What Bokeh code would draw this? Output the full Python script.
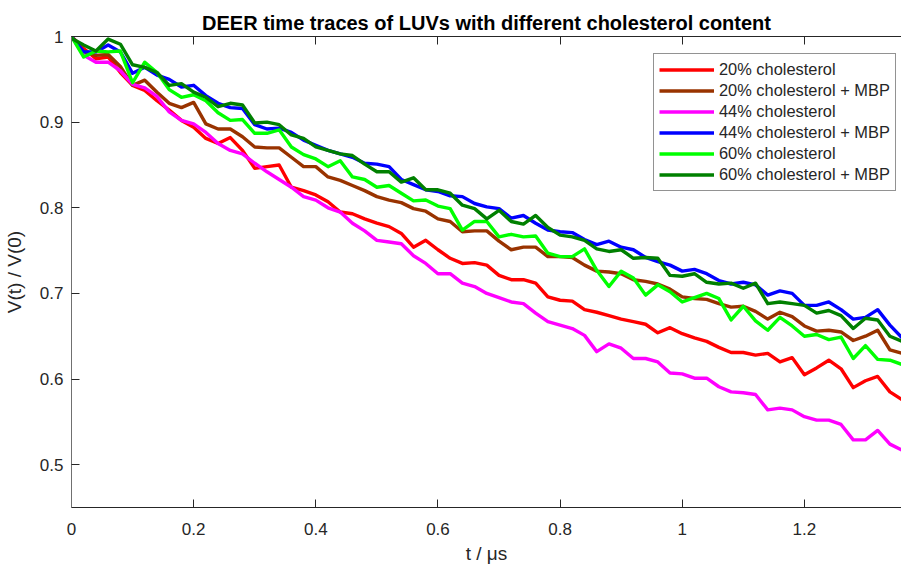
from bokeh.plotting import figure
from bokeh.models import Range1d, LinearAxis, FixedTicker, Legend, LegendItem
from bokeh.embed import file_html
from bokeh.resources import INLINE

# ---------------- data ----------------
t_us = [0.00, 0.02, 0.04, 0.06, 0.08, 0.10, 0.12, 0.14, 0.16, 0.18, 0.20, 0.22, 0.24, 0.26, 0.28,
        0.30, 0.32, 0.34, 0.36, 0.38, 0.40, 0.42, 0.44, 0.46, 0.48, 0.50, 0.52, 0.54, 0.56,
        0.58, 0.60, 0.62, 0.64, 0.66, 0.68, 0.70, 0.72, 0.74, 0.76, 0.78, 0.80, 0.82, 0.84,
        0.86, 0.88, 0.90, 0.92, 0.94, 0.96, 0.98, 1.00, 1.02, 1.04, 1.06, 1.08, 1.10,
        1.12, 1.14, 1.16, 1.18, 1.20, 1.22, 1.24, 1.26, 1.28, 1.30, 1.32, 1.34, 1.36]

chol20 = [1.000, 0.986, 0.974, 0.976, 0.958, 0.943, 0.937, 0.925, 0.914, 0.902, 0.894, 0.881, 0.875, 0.882, 0.867,
          0.846, 0.848, 0.850, 0.824, 0.820, 0.815, 0.807, 0.795, 0.793, 0.787, 0.782, 0.778, 0.770, 0.754,
          0.762, 0.751, 0.741, 0.735, 0.736, 0.733, 0.721, 0.716, 0.716, 0.712, 0.696, 0.692, 0.691, 0.681,
          0.678, 0.674, 0.670, 0.667, 0.664, 0.654, 0.660, 0.653, 0.648, 0.644, 0.637, 0.631, 0.631,
          0.628, 0.630, 0.620, 0.625, 0.605, 0.613, 0.622, 0.612, 0.590, 0.598, 0.603, 0.585, 0.576]

chol20_mbp = [1.000, 0.982, 0.978, 0.979, 0.965, 0.943, 0.949, 0.935, 0.922, 0.917, 0.923, 0.898, 0.892, 0.892, 0.883,
              0.871, 0.870, 0.870, 0.859, 0.848, 0.848, 0.836, 0.832, 0.826, 0.820, 0.813, 0.809, 0.806, 0.799,
              0.796, 0.787, 0.784, 0.772, 0.773, 0.773, 0.761, 0.751, 0.754, 0.754, 0.743, 0.743, 0.742, 0.733,
              0.726, 0.725, 0.723, 0.716, 0.714, 0.711, 0.705, 0.696, 0.694, 0.693, 0.688, 0.684, 0.685,
              0.679, 0.670, 0.678, 0.673, 0.662, 0.656, 0.657, 0.655, 0.645, 0.650, 0.657, 0.634, 0.630]

chol44 = [1.000, 0.978, 0.970, 0.970, 0.960, 0.944, 0.940, 0.930, 0.912, 0.902, 0.898, 0.888, 0.875, 0.867, 0.863,
          0.852, 0.842, 0.833, 0.824, 0.813, 0.809, 0.800, 0.795, 0.782, 0.773, 0.762, 0.760, 0.758, 0.744,
          0.735, 0.723, 0.723, 0.712, 0.708, 0.700, 0.695, 0.690, 0.688, 0.677, 0.667, 0.663, 0.659, 0.651,
          0.632, 0.641, 0.636, 0.624, 0.624, 0.620, 0.607, 0.606, 0.601, 0.601, 0.591, 0.585, 0.584,
          0.582, 0.564, 0.566, 0.564, 0.556, 0.552, 0.552, 0.547, 0.529, 0.529, 0.540, 0.524, 0.517]

chol44_mbp = [1.000, 0.982, 0.982, 0.990, 0.982, 0.957, 0.964, 0.955, 0.950, 0.941, 0.943, 0.931, 0.922, 0.917, 0.916,
              0.897, 0.892, 0.893, 0.888, 0.879, 0.873, 0.867, 0.863, 0.859, 0.852, 0.851, 0.848, 0.833, 0.827,
              0.821, 0.819, 0.814, 0.813, 0.805, 0.801, 0.799, 0.788, 0.791, 0.782, 0.774, 0.772, 0.771, 0.763,
              0.757, 0.761, 0.754, 0.751, 0.742, 0.737, 0.733, 0.726, 0.728, 0.723, 0.715, 0.711, 0.713,
              0.710, 0.698, 0.703, 0.700, 0.686, 0.686, 0.690, 0.681, 0.670, 0.672, 0.681, 0.663, 0.648]

chol60 = [1.000, 0.976, 0.983, 0.982, 0.983, 0.946, 0.970, 0.958, 0.938, 0.929, 0.932, 0.925, 0.911, 0.902, 0.903,
          0.887, 0.887, 0.891, 0.871, 0.862, 0.857, 0.848, 0.855, 0.836, 0.833, 0.824, 0.826, 0.817, 0.808,
          0.809, 0.802, 0.799, 0.774, 0.784, 0.784, 0.766, 0.769, 0.766, 0.767, 0.747, 0.743, 0.743, 0.752,
          0.727, 0.708, 0.726, 0.718, 0.698, 0.710, 0.702, 0.690, 0.695, 0.700, 0.694, 0.669, 0.685,
          0.668, 0.657, 0.672, 0.662, 0.650, 0.652, 0.646, 0.649, 0.624, 0.639, 0.623, 0.622, 0.617]

chol60_mbp = [0.998, 0.990, 0.983, 0.997, 0.991, 0.967, 0.964, 0.958, 0.943, 0.945, 0.935, 0.929, 0.918, 0.922, 0.920,
              0.899, 0.900, 0.897, 0.885, 0.881, 0.871, 0.867, 0.863, 0.861, 0.851, 0.842, 0.842, 0.830, 0.835,
              0.821, 0.821, 0.817, 0.803, 0.799, 0.787, 0.797, 0.784, 0.781, 0.791, 0.777, 0.768, 0.766, 0.762,
              0.752, 0.749, 0.751, 0.741, 0.742, 0.741, 0.721, 0.720, 0.723, 0.713, 0.711, 0.712, 0.706,
              0.712, 0.688, 0.690, 0.688, 0.686, 0.677, 0.680, 0.674, 0.659, 0.671, 0.669, 0.650, 0.644]

series_labels = ["20% cholesterol", "20% cholesterol + MBP", "44% cholesterol",
                 "44% cholesterol + MBP", "60% cholesterol", "60% cholesterol + MBP"]
series_values = [chol20, chol20_mbp, chol44, chol44_mbp, chol60, chol60_mbp]
series_colors = ["#ff0000", "#993300", "#ff00ff", "#0000ff", "#00ff00", "#008000"]

x_ticks = [0, 0.2, 0.4, 0.6, 0.8, 1, 1.2]
x_tick_labels = ["0", "0.2", "0.4", "0.6", "0.8", "1", "1.2"]
y_ticks = [0.5, 0.6, 0.7, 0.8, 0.9, 1]
y_tick_labels = ["0.5", "0.6", "0.7", "0.8", "0.9", "1"]

# ---------------- figure ----------------
FONT = "Liberation Sans"
TXT = "#262626"

p = figure(width=901, height=566, output_backend="svg", toolbar_location=None,
           x_range=Range1d(0, 1.359), y_range=Range1d(0.45, 1.0),
           min_border_left=71, min_border_right=0, min_border_top=36, min_border_bottom=58)
p.outline_line_color = None
p.grid.visible = False

p.title.text = "DEER time traces of LUVs with different cholesterol content"
p.title.align = "center"
p.title.text_font = FONT
p.title.text_font_size = "20px"
p.title.text_font_style = "bold"
p.title.text_color = "#000000"
p.title.standoff = 6

xa = p.xaxis[0]
xa.ticker = FixedTicker(ticks=x_ticks)
xa.major_label_overrides = {k: v for k, v in zip(x_ticks, x_tick_labels)}
xa.axis_label = "t / μs"
ya = p.yaxis[0]
ya.ticker = FixedTicker(ticks=y_ticks)
ya.major_label_overrides = {k: v for k, v in zip(y_ticks, y_tick_labels)}
ya.axis_label = "V(t) / V(0)"

for ax in (xa, ya):
    ax.major_tick_in = 8
    ax.major_tick_out = 0
    ax.minor_tick_in = 0
    ax.minor_tick_out = 0
    ax.major_tick_line_color = TXT
    ax.axis_line_color = TXT
    ax.major_label_text_font = FONT
    ax.major_label_text_font_size = "17px"
    ax.major_label_text_color = TXT
    ax.axis_label_text_font = FONT
    ax.axis_label_text_font_size = "19px"
    ax.axis_label_text_font_style = "normal"
    ax.axis_label_text_color = TXT
xa.major_label_standoff = 15
xa.axis_label_standoff = 5
ya.major_label_standoff = 8
ya.axis_label_standoff = 12
ya.axis_line_color = "#707070"

top = LinearAxis(ticker=FixedTicker(ticks=x_ticks), major_label_text_font_size="1px",
                 major_label_text_color=None,
                 major_tick_in=8, major_tick_out=0, minor_tick_in=0, minor_tick_out=0,
                 major_label_standoff=0, axis_line_color=TXT, major_tick_line_color=TXT)
p.add_layout(top, "above")

items = []
for lab, vals, col in zip(series_labels, series_values, series_colors):
    r = p.line(t_us, vals, line_color=col, line_width=3.4, line_join="round")
    items.append(LegendItem(label=lab, renderers=[r]))

legend = Legend(items=items, location=(582, 316), label_text_font=FONT,
                label_text_font_size="16.4px", label_text_color=TXT,
                glyph_width=55, glyph_height=21, label_height=21, label_standoff=5,
                padding=5, spacing=0, margin=0,
                border_line_color=TXT, border_line_width=1, background_fill_alpha=1)
p.add_layout(legend)

open("out.html", "w").write(file_html(p, INLINE))
